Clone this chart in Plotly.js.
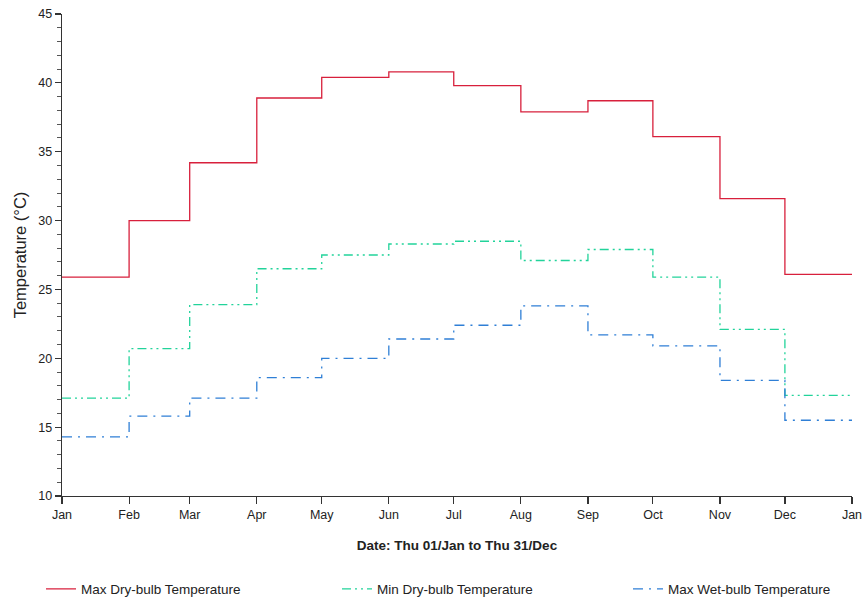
<!DOCTYPE html>
<html>
<head>
<meta charset="utf-8">
<script src="https://cdn.plot.ly/plotly-3.0.1.min.js"></script>
<style>html,body{margin:0;padding:0;background:#fff;}#chart{width:865px;height:598px;}</style>
</head>
<body>
<div id="chart"></div>
<script>
// Month start dates (step values hold for each month), plus year end
const monthStarts = ['2015-01-01','2015-02-01','2015-03-01','2015-04-01','2015-05-01','2015-06-01',
  '2015-07-01','2015-08-01','2015-09-01','2015-10-01','2015-11-01','2015-12-01'];
const yearEnd = '2016-01-01';
const tickLabels = ['Jan','Feb','Mar','Apr','May','Jun','Jul','Aug','Sep','Oct','Nov','Dec','Jan'];
const maxDryBulb = [25.9, 30.0, 34.2, 38.9, 40.4, 40.8, 39.8, 37.9, 38.7, 36.1, 31.6, 26.1];
const minDryBulb = [17.1, 20.7, 23.9, 26.5, 27.5, 28.3, 28.5, 27.1, 27.9, 25.9, 22.1, 17.3];
const maxWetBulb = [14.3, 15.8, 17.1, 18.6, 20.0, 21.4, 22.4, 23.8, 21.7, 20.9, 18.4, 15.5];
const seriesNames = ['Max Dry-bulb Temperature', 'Min Dry-bulb Temperature', 'Max Wet-bulb Temperature'];

const xs = monthStarts.concat([yearEnd]);
function ext(v){ return v.concat([v[v.length-1]]); }

const traces = [
  {x: xs, y: ext(maxDryBulb), name: seriesNames[0], type: 'scatter', mode: 'lines', legend: 'legend',
   line: {shape: 'hv', color: '#d8203c', width: 1.3}},
  {x: xs, y: ext(minDryBulb), name: seriesNames[1], type: 'scatter', mode: 'lines', legend: 'legend2',
   line: {shape: 'hv', color: '#22d39a', width: 1.3, dash: '9px,4px,2px,4px,2px,4px'}},
  {x: xs, y: ext(maxWetBulb), name: seriesNames[2], type: 'scatter', mode: 'lines', legend: 'legend3',
   line: {shape: 'hv', color: '#2f7fd6', width: 1.3, dash: '10px,6px,2px,6px'}}
];

function leg(px){
  return {orientation: 'h', xref: 'container', yref: 'container',
    x: px / 865, y: 0.015, xanchor: 'left', yanchor: 'middle',
    font: {size: 13.5, color: '#222'}, bgcolor: 'rgba(0,0,0,0)'};
}

const layout = {
  width: 865, height: 598,
  margin: {l: 62, r: 13, t: 14, b: 102},
  paper_bgcolor: '#fff', plot_bgcolor: '#fff',
  font: {family: 'Liberation Sans, Arial, sans-serif', size: 12.5, color: '#222'},
  showlegend: true,
  xaxis: {
    type: 'date', range: ['2015-01-01', '2016-01-01'],
    tickmode: 'array', tickvals: xs, ticktext: tickLabels,
    ticks: 'outside', ticklen: 7, tickwidth: 1.2, tickcolor: '#333',
    showline: true, linecolor: '#333', linewidth: 1.3,
    showgrid: false, zeroline: false,
    tickfont: {size: 12.5, color: '#222'},
    title: {text: '<b>Date: Thu 01/Jan to Thu 31/Dec</b>', font: {size: 13.5, color: '#222'}, standoff: 19}
  },
  yaxis: {
    range: [10, 45], dtick: 5, tick0: 10,
    ticks: 'outside', ticklen: 6, tickwidth: 1.2, tickcolor: '#333',
    minor: {dtick: 1, ticks: 'outside', ticklen: 4, tickcolor: '#555', tickwidth: 1, showgrid: false},
    showline: true, linecolor: '#333', linewidth: 1.3,
    showgrid: false, zeroline: false,
    tickfont: {size: 12.5, color: '#222'},
    title: {text: 'Temperature (°C)', font: {size: 16.5, color: '#222'}, standoff: 7}
  },
  legend: leg(41),
  legend2: leg(337),
  legend3: leg(628)
};

Plotly.newPlot('chart', traces, layout, {displayModeBar: false, staticPlot: true});
</script>
</body>
</html>
